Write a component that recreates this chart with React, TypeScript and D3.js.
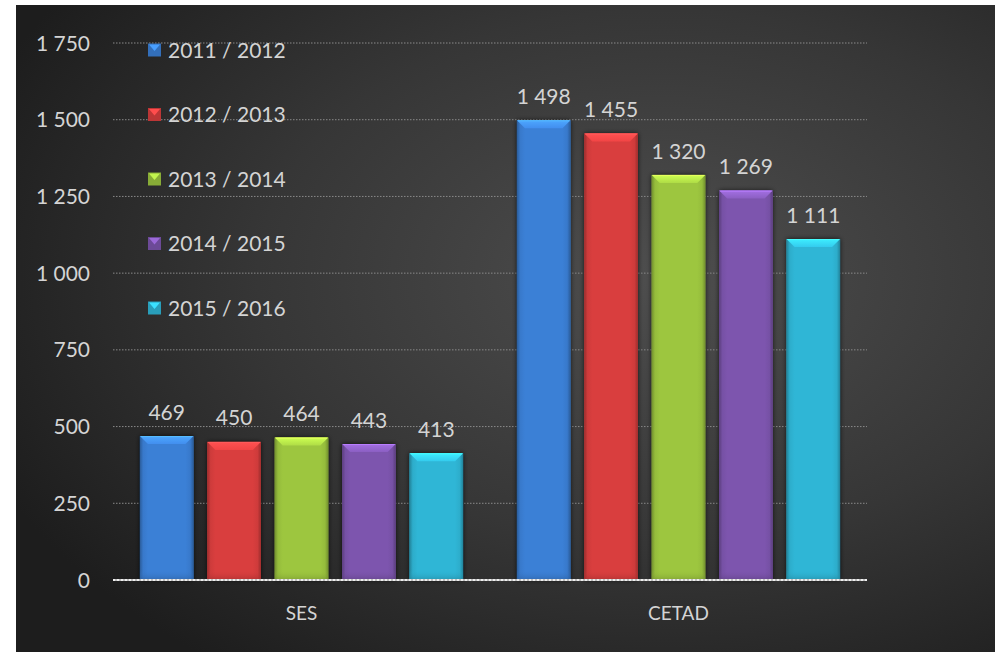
import React from "react";
import * as d3 from "d3";

const categories = ["SES", "CETAD"];
const seriesNames = ["2011 / 2012", "2012 / 2013", "2013 / 2014", "2014 / 2015", "2015 / 2016"];
const values2011 = [469, 1498];
const values2012 = [450, 1455];
const values2013 = [464, 1320];
const values2014 = [443, 1269];
const values2015 = [413, 1111];
const seriesValues = [values2011, values2012, values2013, values2014, values2015];
const yTicks = [0, 250, 500, 750, 1000, 1250, 1500, 1750];
const seriesColors = ["#3b80d6", "#d93e3e", "#9dc63f", "#7d55ae", "#2fb6d6"];

const W = 1000;
const H = 652;
const FONT = "Lato, 'Open Sans', sans-serif";
const TEXT = "#d4d4d4";

const locale = d3.formatLocale({ decimal: ",", thousands: "\u00a0", grouping: [3], currency: ["", ""] });
const fmt = locale.format(",d");

export default function App() {
  const x0 = d3.scaleBand<string>().domain(categories).range([113, 867]).paddingInner(0).paddingOuter(0);
  const x1 = d3
    .scaleBand<string>()
    .domain(seriesNames)
    .range([0, x0.bandwidth()])
    .paddingInner(0.207)
    .paddingOuter(0.4);
  const y = d3.scaleLinear().domain([0, 1750]).range([580, 43]);

  const bw = x1.bandwidth();
  const bev = 8;

  return (
    <svg
      width={W}
      height={H}
      style={{ position: "fixed", left: 0, top: 0, background: "#fff" }}
      fontFamily={FONT}
    >
      <defs>
        <radialGradient id="bg" cx="0.66" cy="0.42" r="0.75" fx="0.66" fy="0.42">
          <stop offset="0" stopColor="#4e4e4e" />
          <stop offset="0.55" stopColor="#363636" />
          <stop offset="1" stopColor="#1d1d1d" />
        </radialGradient>
        <filter id="shadow" x="-30%" y="-10%" width="160%" height="120%">
          <feDropShadow dx="0" dy="0" stdDeviation="2.5" floodColor="#000" floodOpacity="0.75" />
        </filter>
        {seriesColors.map((c, i) => {
          const dark = d3.color(c)!.darker(0.9).formatHex();
          const mid = d3.color(c)!.darker(0.15).formatHex();
          const light = d3.color(c)!.brighter(0.3).formatHex();
          const lighter = d3.color(c)!.brighter(0.75).formatHex();
          return (
            <React.Fragment key={i}>
              <linearGradient id={`side${i}`} x1="0" x2="1" y1="0" y2="0">
                <stop offset="0" stopColor={dark} />
                <stop offset="0.06" stopColor={mid} />
                <stop offset="0.15" stopColor={c} />
                <stop offset="0.85" stopColor={c} />
                <stop offset="0.94" stopColor={mid} />
                <stop offset="1" stopColor={dark} />
              </linearGradient>
              <linearGradient id={`top${i}`} x1="0" x2="0" y1="0" y2="1">
                <stop offset="0" stopColor={lighter} />
                <stop offset="1" stopColor={light} />
              </linearGradient>
              <linearGradient id={`bot${i}`} x1="0" x2="0" y1="0" y2="1">
                <stop offset="0" stopColor={c} stopOpacity="0" />
                <stop offset="1" stopColor={dark} stopOpacity="0.6" />
              </linearGradient>
            </React.Fragment>
          );
        })}
      </defs>

      <rect x={16} y={5} width={979} height={647} fill="url(#bg)" />

      {/* gridlines */}
      {yTicks.slice(1).map((t) => (
        <line
          key={t}
          x1={113}
          x2={867}
          y1={y(t)}
          y2={y(t)}
          stroke="#8a8a8a"
          strokeWidth={1}
          strokeDasharray="1.5,1.5"
        />
      ))}

      {/* y tick labels */}
      {yTicks.map((t) => (
        <text key={t} x={90} y={y(t)} dy="0.36em" textAnchor="end" fontSize={21} fill={TEXT}>
          {fmt(t)}
        </text>
      ))}

      {/* bars */}
      {categories.map((cat, ci) => (
        <g key={cat} transform={`translate(${x0(cat)},0)`}>
          {seriesNames.map((s, si) => {
            const v = seriesValues[si][ci];
            const bx = x1(s)!;
            const top = y(v);
            const h = y(0) - top;
            const c = seriesColors[si];
            return (
              <g key={s}>
                <rect x={bx} y={top} width={bw} height={h} fill={c} filter="url(#shadow)" />
                <rect x={bx} y={top} width={bw} height={h} fill={`url(#side${si})`} />
                <rect x={bx} y={y(0) - 10} width={bw} height={10} fill={`url(#bot${si})`} />
                <polygon
                  points={`${bx},${top} ${bx + bw},${top} ${bx + bw - bev},${top + bev} ${bx + bev},${top + bev}`}
                  fill={`url(#top${si})`}
                />
                <line
                  x1={bx + 1}
                  x2={bx + bw - 1}
                  y1={top + 0.5}
                  y2={top + 0.5}
                  stroke={d3.color(c)!.brighter(1.1).formatHex()}
                  strokeWidth={1}
                />
                <text
                  x={bx + bw / 2}
                  y={top - 24}
                  dy="0.36em"
                  textAnchor="middle"
                  fontSize={21}
                  fill={TEXT}
                >
                  {fmt(v)}
                </text>
              </g>
            );
          })}
        </g>
      ))}

      {/* zero axis */}
      <line x1={113} x2={867} y1={y(0)} y2={y(0)} stroke="#bdbdbd" strokeWidth={2} />
      <line x1={113} x2={867} y1={y(0)} y2={y(0)} stroke="#eeeeee" strokeWidth={2} strokeDasharray="2,2" />

      {/* category labels */}
      {categories.map((cat) => (
        <text
          key={cat}
          x={x0(cat)! + x0.bandwidth() / 2}
          y={613}
          dy="0.36em"
          textAnchor="middle"
          fontSize={19}
          fill={TEXT}
        >
          {cat}
        </text>
      ))}

      {/* legend */}
      {seriesNames.map((s, i) => {
        const cy = 50 + i * 64.5;
        const mx = 148;
        const sz = 13;
        const c = seriesColors[i];
        return (
          <g key={s}>
            <rect x={mx} y={cy - sz / 2} width={sz} height={sz} fill={d3.color(c)!.darker(0.4).formatHex()} />
            <polygon
              points={`${mx + 1},${cy - sz / 2 + 1} ${mx + sz - 1},${cy - sz / 2 + 1} ${mx + sz / 2},${cy + 1}`}
              fill={d3.color(c)!.brighter(0.6).formatHex()}
            />
            <text x={168} y={cy} dy="0.36em" fontSize={21} fill={TEXT}>
              {s}
            </text>
          </g>
        );
      })}
    </svg>
  );
}
